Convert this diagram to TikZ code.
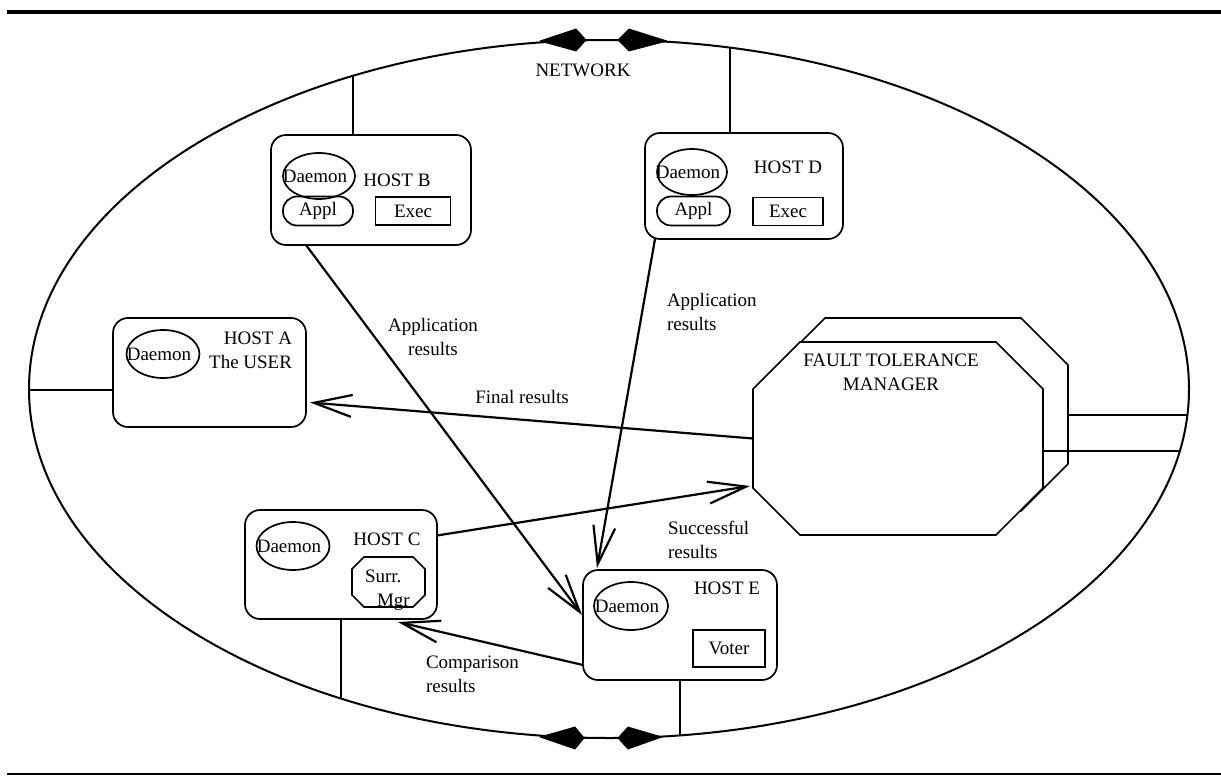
\documentclass[tikz,border=0pt]{standalone}
\usepackage{fontspec}
\setmainfont{Liberation Serif}
\usetikzlibrary{arrows.meta,calc,shapes.geometric}
\newcommand\octagonpath[2]{($(#1.north west)+(#2,0)$) -- ($(#1.north east)+(-#2,0)$) -- ($(#1.north east)+(0,#2)$) -- ($(#1.south east)+(0,-#2)$) -- ($(#1.south east)+(-#2,0)$) -- ($(#1.south west)+(#2,0)$) -- ($(#1.south west)+(0,-#2)$) -- ($(#1.north west)+(0,#2)$) -- cycle}
\newcommand\daemontext{\makebox[0pt]{\raisebox{-4pt}{\kern-8pt Daemon}}}
\begin{document}
\begin{tikzpicture}[x=1pt,y=-1pt,
  every node/.style={font=\fontsize{19}{24}\selectfont, inner sep=0pt, outer sep=0pt},
  host/.style={draw, line width=1.7pt, rounded corners=15pt},
  daemon/.style={draw, ellipse, line width=1.7pt, minimum width=72pt, minimum height=46pt},
  appl/.style={draw, line width=1.7pt, rounded corners=14pt, minimum width=72pt, minimum height=29pt},
  sqbox/.style={draw, line width=1.7pt, minimum width=72pt, minimum height=28pt},
  ghost/.style={rectangle},
  shape line/.style={line width=1.7pt, fill=white},
  netline/.style={line width=1.6pt},
  flow/.style={line width=2.2pt, -{Straight Barb[length=38pt, width=22pt, line width=2.2pt]}},
  kite/.style={fill=black, draw=black, line width=0.8pt, line join=round}
]
\useasboundingbox (0,0) rectangle (1221,776);

% page rules
\draw[line width=4pt] (7,12) -- (1221,12);
\draw[line width=1.8pt] (7,774) -- (1221,774);

% network ellipse
\draw[line width=2pt] (609,389) ellipse [x radius=580, y radius=349];
\node (netlabel) at (583,70) {NETWORK};

% kites (network terminators)
\draw[line width=2pt] (584,40) -- (620,40);
\draw[kite] (540,41) -- (576,29) -- (586,40) -- (576,51) -- cycle;
\draw[kite] (618,40) -- (629,29) -- (667,41) -- (629,51) -- cycle;
\draw[line width=2pt] (582,738) -- (620,738);
\draw[kite] (540,737) -- (575,727) -- (584,738) -- (575,749) -- cycle;
\draw[kite] (618,738) -- (628,727) -- (662,737) -- (628,749) -- cycle;

% network attachment points
\coordinate (nA) at (29,390);
\coordinate (nB) at (353,76);
\coordinate (nC) at (341,698.5);
\coordinate (nD) at (730,48);
\coordinate (nE) at (680,735.5);
\coordinate (nF1) at (1187,415);
\coordinate (nF2) at (1180,451);

% HOST B
\node[host, minimum width=200pt, minimum height=110pt] (hostB) at (371,190) {};
\node[daemon] (dB) at (319,176) {\daemontext};
\node[appl, minimum width=70pt] (aB) at (318,211) {Appl};
\node[sqbox, minimum width=75pt] (eB) at (413,211) {Exec};
\node (tB) at (397,180) {HOST B};

% HOST D
\node[host, minimum width=198pt, minimum height=106pt] (hostD) at (744,186) {};
\node[daemon, minimum width=70pt] (dD) at (692,172) {\daemontext};
\node[appl, minimum width=73pt] (aD) at (693.5,211) {Appl};
\node[sqbox, minimum width=70pt] (eD) at (788,211.5) {Exec};
\node (tD) at (788,167) {HOST D};

% HOST A
\node[host, minimum width=193pt, minimum height=109pt] (hostA) at (209.5,372.5) {};
\node[daemon, minimum width=73pt, minimum height=48pt] (dA) at (163,354) {\daemontext};
\node[align=right, anchor=east] (tA) at (292,350) {HOST A\\The USER};

% HOST C
\node[host, minimum width=192pt, minimum height=109pt] (hostC) at (341,564.5) {};
\node[daemon, minimum width=73pt, minimum height=48pt] (dC) at (293,546) {\daemontext};
\node (tC) at (387,539) {HOST C};
\node[ghost, minimum width=73pt, minimum height=50pt] (surr) at (388.5,582) {};
\draw[shape line] \octagonpath{surr}{12};
\node[align=left, anchor=west] (tS) at (365,590) {Surr.\\\hspace*{12pt}Mgr};

% HOST E
\node[host, minimum width=194pt, minimum height=110pt] (hostE) at (680,625) {};
\node[daemon, minimum width=74pt, minimum height=48pt] (dE) at (631,606) {\daemontext};
\node (tE) at (727,588) {HOST E};
\node[sqbox, minimum width=72pt, minimum height=37pt] (vE) at (729,648.5) {Voter};

% FAULT TOLERANCE MANAGER
\node[ghost, minimum width=290pt, minimum height=193pt] (ftmback) at (923,414.5) {};
\node[ghost, minimum width=290pt, minimum height=193pt] (ftm) at (898,438.5) {};
\draw[shape line] \octagonpath{ftmback}{47};
\draw[shape line] \octagonpath{ftm}{47};
\node[align=center] (tF) at (891,372) {FAULT TOLERANCE\\MANAGER};

% links to the network
\draw[netline] (nA) -- (nA -| hostA.west);
\draw[netline] (nB) -- (nB |- hostB.north);
\draw[netline] (nC) -- (nC |- hostC.south);
\draw[netline] (nD) -- (nD |- hostD.north);
\draw[netline] (nE) -- (nE |- hostE.south);
\draw[netline] (nF1) -- (nF1 -| ftmback.east);
\draw[netline] (nF2) -- (nF2 -| ftm.east);

% message flows
\draw[flow] ($(hostB.south)+(-65,0)$) -- ($(hostE.west)+(-1,-10)$);
\draw[flow] ($(hostD.south)+(-89,0)$) -- ($(hostE.north)+(-83,-2)$);
\draw[flow] (ftm.west) -- ($(hostA.east)+(4,30)$);
\draw[flow] ($(hostC.east)+(0,-29)$) -- ($(ftm.south west)+(-3,-49)$);
\draw[flow] ($(hostE.south west)+(0,-15)$) -- ($(hostC.south)+(57,3)$);

% labels
\node[align=center] (lAB) at (433,337) {Application\\results};
\node[align=left, anchor=west] (lAD) at (667,312) {Application\\results};
\node (lFin) at (522,397) {Final results};
\node[align=left, anchor=west] (lSuc) at (668,540) {Successful\\results};
\node[align=left, anchor=west] (lCmp) at (426,674) {Comparison\\results};
\end{tikzpicture}
\end{document}
